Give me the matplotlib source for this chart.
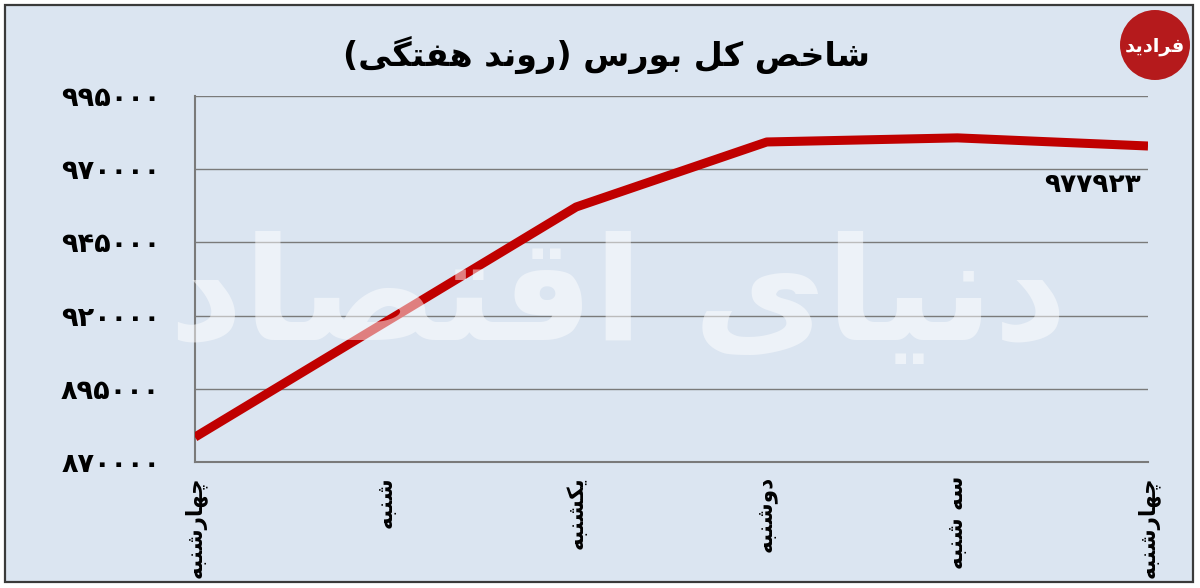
import matplotlib
matplotlib.use("Agg")
import matplotlib.pyplot as plt
from matplotlib.patches import Rectangle, Ellipse
from matplotlib.ticker import FixedLocator, FuncFormatter

# ---- data ----
days = ['چهارشنبه', 'شنبه', 'یکشنبه', 'دوشنبه', 'سه شنبه', 'چهارشنبه']
index_values = [878500, 917800, 957100, 979300, 980700, 977923]
y_ticks = [870000, 895000, 920000, 945000, 970000, 995000]
title = 'شاخص کل بورس (روند هفتگی)'
last_label = '977923'
watermark = 'دنیای اقتصاد'
logo = 'فرادید'

# ---- minimal Arabic/Persian shaping for display ----
FORMS = {
    'ا': ('\uFE8D', '\uFE8E', None, None),
    'ب': ('\uFE8F', '\uFE90', '\uFE91', '\uFE92'),
    'ت': ('\uFE95', '\uFE96', '\uFE97', '\uFE98'),
    'خ': ('\uFEA5', '\uFEA6', '\uFEA7', '\uFEA8'),
    'چ': ('\uFB7A', '\uFB7B', '\uFB7C', '\uFB7D'),
    'د': ('\uFEA9', '\uFEAA', None, None),
    'ر': ('\uFEAD', '\uFEAE', None, None),
    'ز': ('\uFEAF', '\uFEB0', None, None),
    'س': ('\uFEB1', '\uFEB2', '\uFEB3', '\uFEB4'),
    'ش': ('\uFEB5', '\uFEB6', '\uFEB7', '\uFEB8'),
    'ص': ('\uFEB9', '\uFEBA', '\uFEBB', '\uFEBC'),
    'ف': ('\uFED1', '\uFED2', '\uFED3', '\uFED4'),
    'ق': ('\uFED5', '\uFED6', '\uFED7', '\uFED8'),
    'ک': ('\uFB8E', '\uFB8F', '\uFB90', '\uFB91'),
    'گ': ('\uFB92', '\uFB93', '\uFB94', '\uFB95'),
    'ل': ('\uFEDD', '\uFEDE', '\uFEDF', '\uFEE0'),
    'ن': ('\uFEE5', '\uFEE6', '\uFEE7', '\uFEE8'),
    'ه': ('\uFEE9', '\uFEEA', '\uFEEB', '\uFEEC'),
    'و': ('\uFEED', '\uFEEE', None, None),
    'ی': ('\uFBFC', '\uFBFD', '\uFBFE', '\uFBFF'),
}


def dual(c):
    return c in FORMS and FORMS[c][2] is not None


def shape(s):
    out = []
    for i, c in enumerate(s):
        if c not in FORMS:
            out.append(c)
            continue
        prev = s[i - 1] if i > 0 else ''
        nxt = s[i + 1] if i + 1 < len(s) else ''
        jp = dual(prev)
        jn = dual(c) and nxt in FORMS
        iso, fin, ini, med = FORMS[c]
        if jp and jn:
            out.append(med)
        elif jp:
            out.append(fin)
        elif jn:
            out.append(ini)
        else:
            out.append(iso)
    vis = ''.join(out)[::-1]
    swap = {'(': ')', ')': '('}
    return ''.join(swap.get(ch, ch) for ch in vis)


FA = str.maketrans('0123456789', '۰۱۲۳۴۵۶۷۸۹')


def fa_digits(s):
    return str(s).translate(FA)


plt.rcParams['font.family'] = ['DejaVu Sans']

W, H, DPI = 1200, 588, 100
fig = plt.figure(figsize=(W / DPI, H / DPI), dpi=DPI, facecolor='white')

bg = '#dbe5f1'
# outer frame
fig.patches.append(Rectangle((5 / W, 1 - 582 / H), 1188 / W, 577 / H,
                             transform=fig.transFigure, facecolor=bg,
                             edgecolor='#3a3a3a', linewidth=1.6, zorder=-5))

ax = fig.add_axes([195 / W, 1 - 462 / H, (1148 - 195) / W, (462 - 96) / H])
ax.set_facecolor('none')
ax.set_zorder(1)

x = list(range(len(days)))
ax.plot(x, index_values, color='#c00000', linewidth=6.5, solid_joinstyle='round',
        solid_capstyle='butt', zorder=3)

ax.set_xlim(0, len(days) - 1)
ax.set_ylim(y_ticks[0], y_ticks[-1])
ax.yaxis.set_major_locator(FixedLocator(y_ticks))
ax.yaxis.set_major_formatter(FuncFormatter(lambda v, p: fa_digits(int(round(v)))))
ax.grid(axis='y', color='#7a7a7a', linewidth=1.0, zorder=1)
ax.set_axisbelow(True)
ax.set_xticks(x)
ax.set_xticklabels([shape(d) for d in days], rotation=90, fontsize=15.5,
                   fontweight='bold', va='top', ha='center')
for lab in ax.get_yticklabels():
    lab.set_fontsize(19.5)
    lab.set_fontweight('bold')
ax.tick_params(axis='y', length=0, pad=25)
ax.tick_params(axis='x', length=0, pad=10)
for side in ['top', 'right']:
    ax.spines[side].set_visible(False)
for side in ['left', 'bottom']:
    ax.spines[side].set_color('#7a7a7a')
    ax.spines[side].set_linewidth(1.5)

# last value label
ax.annotate(fa_digits(last_label), xy=(x[-1], index_values[-1]), xytext=(-5, -28),
            textcoords='offset points', ha='right', va='center', fontsize=19,
            fontweight='bold', color='black', zorder=4)

# watermark
fig.text(618 / W, 1 - 300 / H, shape(watermark), fontsize=104, fontweight='bold',
         color='white', alpha=0.5, ha='center', va='center', zorder=5)

# title
fig.text(606 / W, 1 - 55 / H, shape(title), fontsize=24, fontweight='bold',
         ha='center', va='center', zorder=5)

# logo
fig.patches.append(Ellipse((1155 / W, 1 - 45 / H), 70 / W, 70 / H,
                           transform=fig.transFigure, facecolor='#b51a1c',
                           edgecolor='none', zorder=6))
fig.text(1155 / W, 1 - 47 / H, shape(logo), fontsize=14, fontweight='bold',
         color='white', ha='center', va='center', zorder=7)

fig.savefig('out.png', dpi=DPI, facecolor='white')
